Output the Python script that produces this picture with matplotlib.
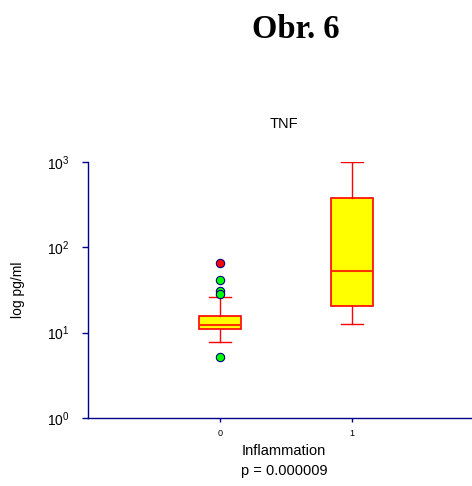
import matplotlib
matplotlib.use("Agg")
import matplotlib.pyplot as plt
from matplotlib.ticker import LogLocator, NullLocator

# ---- data ----
groups = ["0", "1"]
positions = [0, 1]
q1 = [11.0, 20.7]
medians = [12.4, 53.2]
q3 = [15.7, 375.0]
whislo = [7.8, 12.6]
whishi = [26.4, 995.0]
outliers_0 = [41.4, 30.8, 28.2, 5.2]
extremes_0 = [65.5]
title = "TNF"
ylabel = "log pg/ml"
xlabel = "Inflammation"
pvalue_text = "p = 0.000009"
fig_title = "Obr. 6"

plt.rcParams['font.family'] = ['Liberation Sans', 'DejaVu Sans']
axis_color = '#00008B'

fig = plt.figure(figsize=(4.72, 4.86), dpi=100)
ax = fig.add_axes([88/472, 68/486, 396/472, 256/486])

stats = []
for i in range(len(groups)):
    stats.append(dict(med=medians[i], q1=q1[i], q3=q3[i], whislo=whislo[i],
                      whishi=whishi[i], fliers=[], label=groups[i]))

ax.bxp(stats, positions=positions, widths=0.32, showfliers=False,
       patch_artist=True,
       boxprops=dict(facecolor='#FFFF00', edgecolor='#FF0000', linewidth=1.2),
       medianprops=dict(color='#FF3300', linewidth=1.5),
       whiskerprops=dict(color='#FF0000', linewidth=1.0),
       capprops=dict(color='#FF0000', linewidth=1.0),
       capwidths=0.16)

ax.plot([positions[0]] * len(outliers_0), outliers_0, 'o', ms=6,
        mfc='#00FF00', mec='#000080', mew=0.8, zorder=5, clip_on=False)
ax.plot([positions[0]] * len(extremes_0), extremes_0, 'o', ms=6,
        mfc='#FF0000', mec='#000080', mew=0.8, zorder=5, clip_on=False)

ax.set_yscale('log')
ax.set_ylim(1, 1000)
ax.set_xlim(-1, 2)
ax.yaxis.set_major_locator(LogLocator(base=10, numticks=10))
ax.yaxis.set_minor_locator(NullLocator())
ax.set_xticks(positions)
ax.set_xticklabels(groups)

for s in ['top', 'right']:
    ax.spines[s].set_visible(False)
for s in ['left', 'bottom']:
    ax.spines[s].set_color(axis_color)
    ax.spines[s].set_linewidth(1.0)

ax.tick_params(axis='y', direction='out', length=4, width=1, color=axis_color,
               labelsize=10, pad=9)
ax.tick_params(axis='x', direction='out', length=3, width=1, color=axis_color,
               labelsize=6.5, pad=5)

fig.text(284/472, 1 - 124/486, title, ha='center', va='center', fontsize=10.5)
fig.text(18/472, 1 - 290/486, ylabel, ha='center', va='center', rotation=90,
         fontsize=10)
fig.text(284/472, 1 - 451/486, xlabel, ha='center', va='center', fontsize=10.5)
fig.text(284/472, 1 - 471/486, pvalue_text, ha='center', va='center', fontsize=10.5)
fig.text(296/472, 1 - 29/486, fig_title, ha='center', va='center', fontsize=23.5,
         fontweight='bold', family=['Liberation Serif', 'DejaVu Serif'])

fig.savefig('out.png', dpi=100)
